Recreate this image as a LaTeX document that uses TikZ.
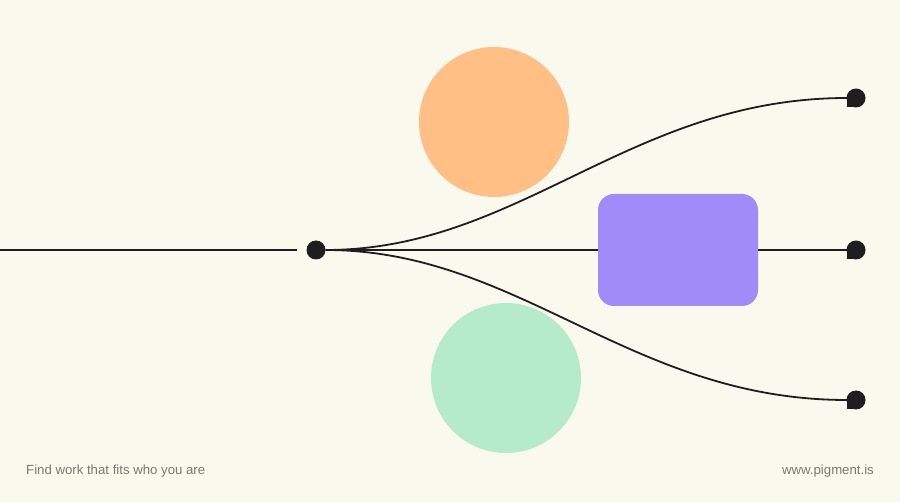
\documentclass[tikz,border=0pt]{standalone}
\usepackage{fontspec}
\setmainfont{Liberation Sans}
\usetikzlibrary{calc}
\definecolor{bg}{HTML}{F9F9EE}
\definecolor{ink}{HTML}{1E1E20}
\definecolor{peach}{HTML}{FFBF85}
\definecolor{mint}{HTML}{B5EBCA}
\definecolor{violet}{HTML}{A08CF8}
\definecolor{txt}{HTML}{7A7A72}
\tikzset{
  wire/.style={draw=ink, line width=1.8pt},
  srcdot/.style={circle, fill=ink, minimum size=19pt, inner sep=0pt},
  foot/.style={text=txt, font=\fontsize{13.2}{15}\selectfont, inner sep=0pt},
}
\newcommand{\pinmark}[1]{%
  \fill[ink] (#1) circle (9.5);
  \fill[ink] ($(#1)+(-9.5,0)$) rectangle ($(#1)+(0,9.5)$);}
\begin{document}
\begin{tikzpicture}[x=1pt,y=-1pt]
\fill[bg] (0,0) rectangle (900,502);
\useasboundingbox (0,0) rectangle (900,502);
% shapes
\fill[peach] (494,122) circle (75);
\fill[mint] (506,378) circle (75);
% coordinates
\coordinate (l0) at (0,250);
\coordinate (l1) at (297,250);
\node[srcdot] (src) at (316,250) {};
\coordinate (c1) at (856,98);
\coordinate (c2) at (856,250);
\coordinate (c3) at (856,400);
\coordinate (e1) at (847,98);
\coordinate (e2) at (847,250);
\coordinate (e3) at (847,400);
% wires
\draw[wire] (l0) -- (l1);
\draw[wire] (src.east) -- (e2);
\draw[wire] (src.east) .. controls (520,250) and (630,98) .. (e1);
\draw[wire] (src.east) .. controls (520,250) and (630,400) .. (e3);
% box
\node[fill=violet, rounded corners=16pt, minimum width=160pt, minimum height=112pt, inner sep=0pt] (box) at (678,250) {};
% end markers
\pinmark{c1}
\pinmark{c2}
\pinmark{c3}
% footer
\node[foot, anchor=west] (tag) at (26,471.5) {Find work that fits who you are};
\node[foot, anchor=east] (url) at (874,471.5) {www.pigment.is};
\end{tikzpicture}
\end{document}
